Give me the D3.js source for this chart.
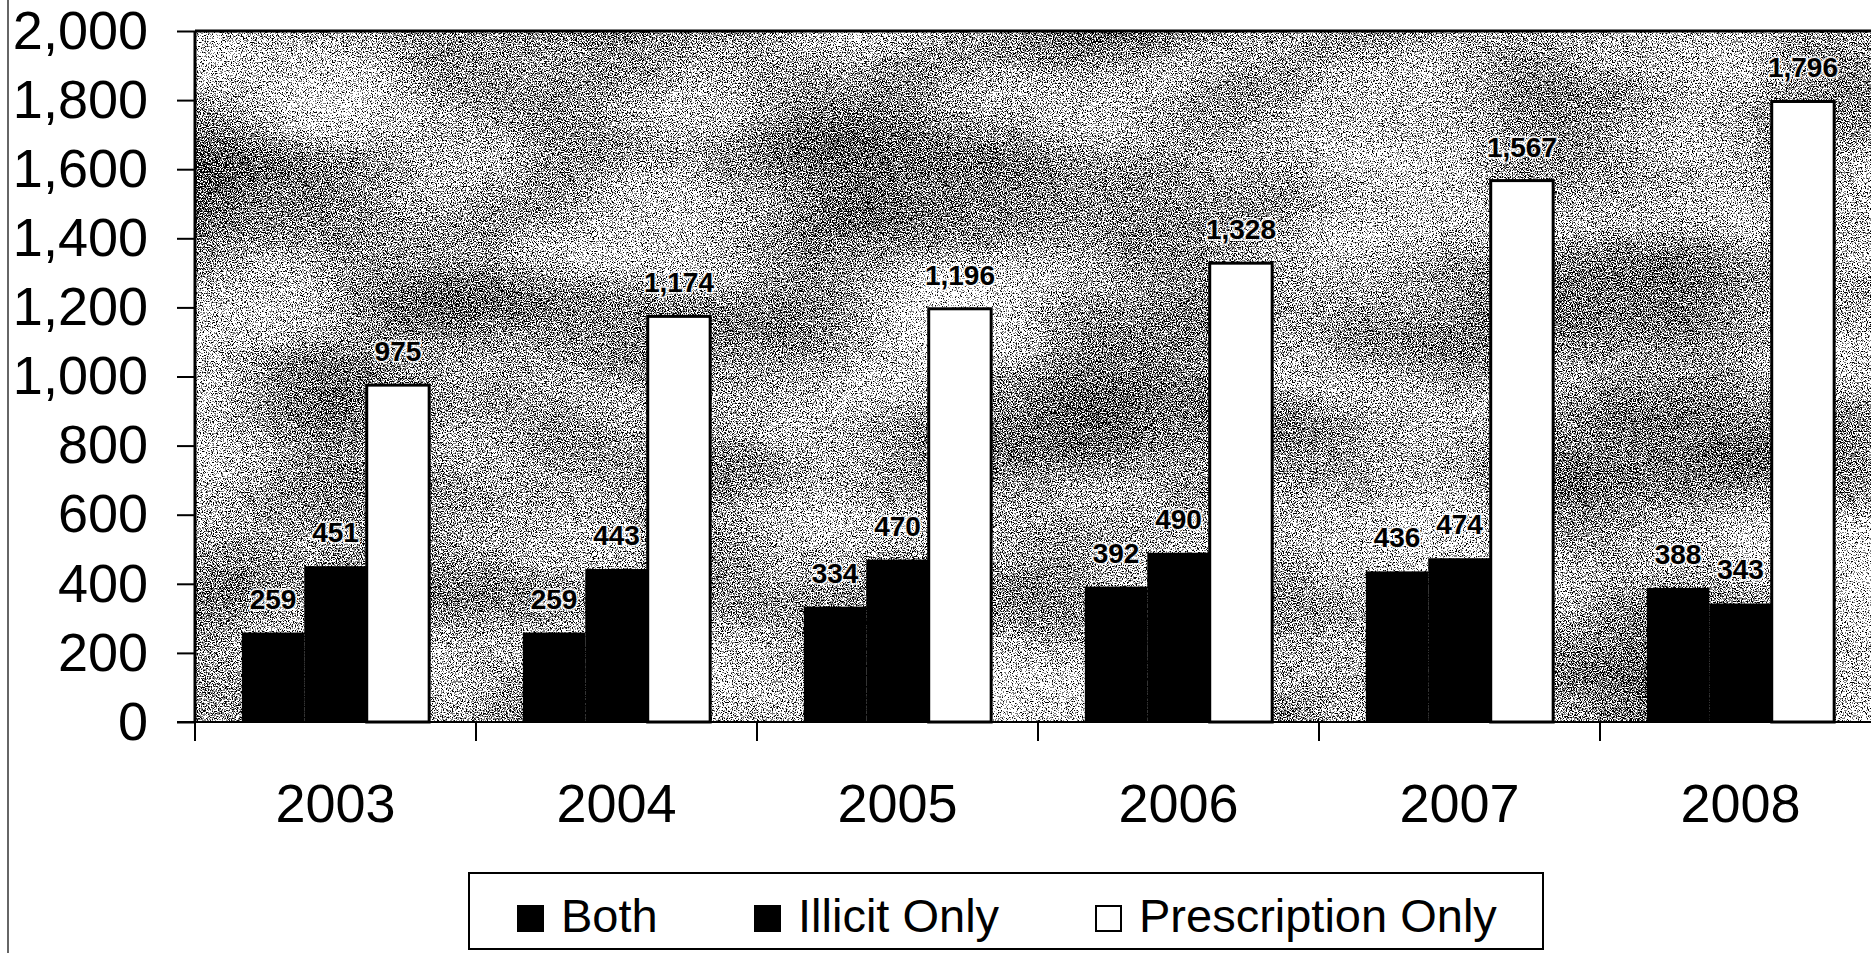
<!DOCTYPE html>
<html>
<head>
<meta charset="utf-8">
<script src="https://cdn.jsdelivr.net/npm/d3@7"></script>
<style>
  body { margin: 0; background: #fff; }
  svg { display: block; font-family: "Liberation Sans", Arial, sans-serif; }
</style>
</head>
<body>
<div id="chart"></div>
<script>
/* Bar chart: Both / Illicit Only / Prescription Only, 2003-2008 */

const years = ["2003", "2004", "2005", "2006", "2007", "2008"];
const seriesNames = ["Both", "Illicit Only", "Prescription Only"];
const both = [259, 259, 334, 392, 436, 388];
const illicitOnly = [451, 443, 470, 490, 474, 343];
const prescriptionOnly = [975, 1174, 1196, 1328, 1567, 1796];
const yTicks = [0, 200, 400, 600, 800, 1000, 1200, 1400, 1600, 1800, 2000];

const width = 1871, height = 953,
      margin = ({top: 31, right: -10, bottom: 231, left: 195}); // plot runs off the right edge

const values = [both, illicitOnly, prescriptionOnly];
const data = years.map((yr, i) => ({
    year: yr,
    vals: seriesNames.map((s, j) => ({series: s, value: values[j][i]}))
}));

const svg = d3.select("#chart")
    .append("svg")
    .attr("width", width)
    .attr("height", height)
    .attr("viewBox", [0, 0, width, height]);

// speckled scan texture for the plot area
const defs = svg.append("defs");
const f = defs.append("filter").attr("id", "grain")
    .attr("x", 0).attr("y", 0).attr("width", "100%").attr("height", "100%")
    .attr("color-interpolation-filters", "sRGB");
f.append("feTurbulence").attr("type", "fractalNoise").attr("baseFrequency", 0.8)
    .attr("numOctaves", 2).attr("seed", 7).attr("result", "fine");
f.append("feColorMatrix").attr("in", "fine").attr("type", "matrix")
    .attr("values", "1 0 0 0 0  1 0 0 0 0  1 0 0 0 0  0 0 0 0 1").attr("result", "fineO");
f.append("feTurbulence").attr("type", "fractalNoise").attr("baseFrequency", "0.004 0.008")
    .attr("numOctaves", 2).attr("seed", 3).attr("result", "coarse");
f.append("feColorMatrix").attr("in", "coarse").attr("type", "matrix")
    .attr("values", "1 0 0 0 0  1 0 0 0 0  1 0 0 0 0  0 0 0 0 1").attr("result", "coarseO");
f.append("feComposite").attr("in", "fineO").attr("in2", "coarseO")
    .attr("operator", "arithmetic").attr("k1", 0).attr("k2", 1).attr("k3", 0.3).attr("k4", -0.15)
    .attr("result", "mix");
f.append("feColorMatrix").attr("in", "mix").attr("type", "matrix")
    .attr("values", "0 0 0 0 0  0 0 0 0 0  0 0 0 0 0  1 0 0 0 0").attr("result", "a");
f.append("feComponentTransfer").attr("in", "a")
    .append("feFuncA").attr("type", "discrete")
    .attr("tableValues", "0 0 0 0 0 0.5 1 1 1 1");

let x = d3.scaleBand()
    .domain(years)
    .range([margin.left, width - margin.right])
    .padding(0);

const bw = x.bandwidth();
let x1 = d3.scaleBand()   // Excel style gap width 150%
    .domain(seriesNames)
    .range([bw * 0.75 / 4.5, bw * 3.75 / 4.5])
    .padding(0);

let y = d3.scaleLinear()
    .domain([0, 2000])
    .range([height - margin.bottom, margin.top]);

const plotW = width - margin.right - margin.left,
      plotH = y(0) - y(2000);

// outer chart frame (left edge only visible)
svg.append("line")
    .attr("x1", 8).attr("x2", 8).attr("y1", 0).attr("y2", height)
    .attr("stroke", "#333").attr("stroke-width", 1.5);

// plot background
svg.append("rect")
    .attr("x", margin.left).attr("y", y(2000))
    .attr("width", plotW).attr("height", plotH)
    .attr("fill", "#fff");
svg.append("rect")
    .attr("x", margin.left).attr("y", y(2000))
    .attr("width", plotW).attr("height", plotH)
    .attr("fill", "#000")
    .attr("filter", "url(#grain)");

const color = d3.scaleOrdinal()
    .domain(seriesNames)
    .range(["#000", "#000", "#fff"]);

let group = svg.selectAll(".grp")
    .data(data)
    .join("g")
    .attr("class", "grp")
    .attr("transform", d => `translate(${x(d.year)},0)`);

group.selectAll("rect")
    .data(d => d.vals)
    .join("rect")
    .attr("x", d => x1(d.series))
    .attr("width", x1.bandwidth())
    .attr("y", d => y(d.value))
    .attr("height", d => y(0) - y(d.value))
    .attr("fill", d => color(d.series))
    .attr("stroke", d => d.series === "Prescription Only" ? "#000" : "none")
    .attr("stroke-width", 3);

group.selectAll("text")
    .data(d => d.vals)
    .join("text")
    .attr("x", d => x1(d.series) + x1.bandwidth() / 2)
    .attr("y", d => y(d.value) - 24)
    .attr("text-anchor", "middle")
    .attr("font-size", 28)
    .attr("font-weight", "bold")
    .attr("fill", "#000")
    .attr("stroke", "rgba(255,255,255,0.75)")
    .attr("stroke-width", 4)
    .attr("paint-order", "stroke")
    .text(d => d3.format(",")(d.value));

// plot frame: top and left thick, bottom axis
svg.append("line")
    .attr("x1", margin.left).attr("x2", width)
    .attr("y1", y(2000)).attr("y2", y(2000))
    .attr("stroke", "#000").attr("stroke-width", 3);
svg.append("line")
    .attr("x1", margin.left).attr("x2", margin.left)
    .attr("y1", y(2000)).attr("y2", y(0))
    .attr("stroke", "#000").attr("stroke-width", 3);
svg.append("line")
    .attr("x1", margin.left - 18).attr("x2", width)
    .attr("y1", y(0)).attr("y2", y(0))
    .attr("stroke", "#000").attr("stroke-width", 2);

const yAxis = g => g
    .attr("transform", `translate(${margin.left},0)`)
    .call(d3.axisLeft(y).tickValues(yTicks).tickSize(18).tickPadding(29).tickFormat(d3.format(",")))
    .call(g => g.select(".domain").remove())
    .call(g => g.selectAll(".tick line").attr("stroke", "#000").attr("stroke-width", 2))
    .call(g => g.selectAll(".tick text").attr("font-size", 54).attr("fill", "#000")
        .attr("font-family", "'Liberation Sans', Arial, sans-serif"));

svg.append("g").call(yAxis);

// category boundary ticks
svg.append("g")
    .selectAll("line")
    .data(years)
    .join("line")
    .attr("x1", d => x(d)).attr("x2", d => x(d))
    .attr("y1", y(0)).attr("y2", y(0) + 19)
    .attr("stroke", "#000").attr("stroke-width", 2);

const xAxis = g => g
    .attr("transform", `translate(0,${y(0)})`)
    .call(d3.axisBottom(x).tickSize(0).tickPadding(62))
    .call(g => g.select(".domain").remove())
    .call(g => g.selectAll(".tick text").attr("font-size", 54).attr("fill", "#000")
        .attr("font-family", "'Liberation Sans', Arial, sans-serif"));

svg.append("g").call(xAxis);

// legend
const legend = svg.append("g");
legend.append("rect")
    .attr("x", 469).attr("y", 873)
    .attr("width", 1074).attr("height", 76)
    .attr("fill", "#fff").attr("stroke", "#000").attr("stroke-width", 2);

const legendX = [517, 754, 1095];
let item = legend.selectAll(".item")
    .data(seriesNames)
    .join("g")
    .attr("class", "item")
    .attr("transform", (d, i) => `translate(${legendX[i]},0)`);

item.append("rect")
    .attr("x", d => d === "Prescription Only" ? 1 : 0)
    .attr("y", d => d === "Prescription Only" ? 906 : 905)
    .attr("width", d => d === "Prescription Only" ? 25 : 27)
    .attr("height", d => d === "Prescription Only" ? 25 : 27)
    .attr("fill", d => color(d))
    .attr("stroke", "#000")
    .attr("stroke-width", d => d === "Prescription Only" ? 2 : 0);

item.append("text")
    .attr("x", 44)
    .attr("y", 932)
    .attr("font-size", 47)
    .attr("fill", "#000")
    .text(d => d);
</script>
</body>
</html>
